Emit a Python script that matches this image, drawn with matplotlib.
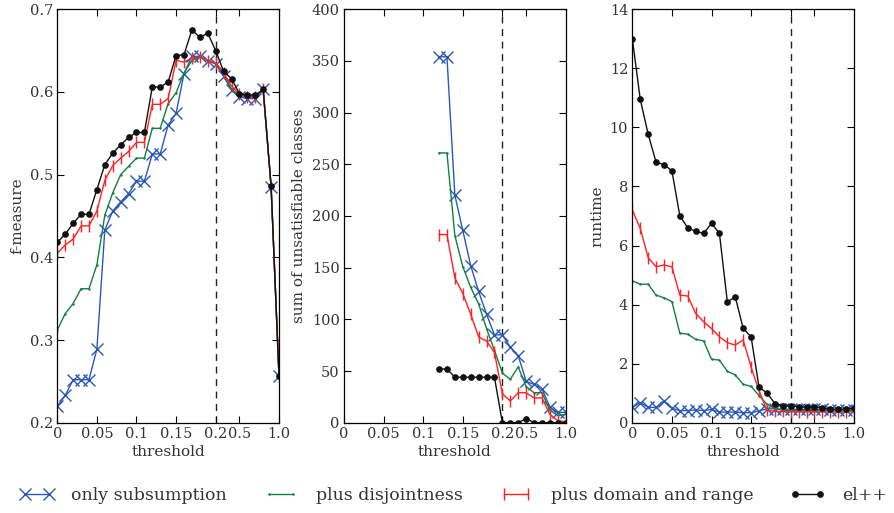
import numpy as np
import matplotlib
matplotlib.use("Agg")
import matplotlib.pyplot as plt

plt.rcParams["font.family"] = ["DejaVu Serif"]

# thresholds: fine steps up to 0.2, then coarse steps up to 1.0
thresholds = [0.00, 0.01, 0.02, 0.03, 0.04, 0.05, 0.06, 0.07, 0.08, 0.09,
              0.10, 0.11, 0.12, 0.13, 0.14, 0.15, 0.16, 0.17, 0.18, 0.19,
              0.20, 0.3, 0.4, 0.5, 0.6, 0.7, 0.8, 0.9, 1.0]
tick_values = [0, 0.05, 0.1, 0.15, 0.2, 0.5, 1.0]
tick_labels = ["0", "0.05", "0.1", "0.15", "0.2", "0.5", "1.0"]
cutoff = 0.2

series_names = ["only subsumption", "plus disjointness",
                "plus domain and range", "el++"]

# f-measure
f_subsumption = [0.220, 0.233, 0.252, 0.252, 0.252, 0.289, 0.433, 0.456, 0.467, 0.477,
                 0.492, 0.492, 0.525, 0.525, 0.560, 0.574, 0.622, 0.643, 0.643, 0.638,
                 0.634, 0.619, 0.602, 0.594, 0.592, 0.592, 0.603, 0.485, 0.256]
f_disjoint = [0.312, 0.332, 0.344, 0.362, 0.362, 0.391, 0.451, 0.478, 0.500, 0.510,
              0.520, 0.520, 0.556, 0.556, 0.586, 0.599, 0.623, 0.638, 0.642, 0.638,
              0.634, 0.622, 0.603, 0.596, 0.594, 0.594, 0.603, 0.486, 0.256]
f_domain = [0.405, 0.415, 0.422, 0.438, 0.438, 0.456, 0.493, 0.511, 0.520, 0.528,
            0.539, 0.539, 0.585, 0.585, 0.592, 0.638, 0.636, 0.641, 0.642, 0.638,
            0.635, 0.623, 0.607, 0.597, 0.594, 0.594, 0.603, 0.486, 0.256]
f_elpp = [0.418, 0.428, 0.441, 0.452, 0.452, 0.482, 0.512, 0.526, 0.536, 0.545,
          0.551, 0.551, 0.606, 0.606, 0.612, 0.644, 0.645, 0.675, 0.666, 0.671,
          0.650, 0.625, 0.616, 0.598, 0.596, 0.596, 0.603, 0.486, 0.256]

# sum of unsatisfiable classes (no values below threshold 0.12)
n = np.nan
u_subsumption = [n] * 12 + [354, 354, 220, 186, 152, 127, 105, 85, 85, 73,
                            65, 40, 37, 33, 15, 10, 10]
u_disjoint = [n] * 12 + [261, 261, 181, 151, 131, 115, 91, 70, 48, 42,
                         54, 35, 29, 29, 12, 7, 8]
u_domain = [n] * 12 + [182, 182, 140, 125, 105, 83, 79, 68, 28, 21,
                       29, 29, 24, 24, 8, 2, 1]
u_elpp = [n] * 12 + [52, 52, 44, 44, 44, 44, 44, 44, 0, 0,
                     0, 4, 0, 0, 0, 0, 0]

# runtime
r_subsumption = [0.52, 0.68, 0.52, 0.52, 0.73, 0.49, 0.41, 0.41, 0.43, 0.41,
                 0.45, 0.36, 0.36, 0.36, 0.34, 0.34, 0.40, 0.47, 0.47, 0.46,
                 0.46, 0.45, 0.45, 0.45, 0.45, 0.44, 0.44, 0.43, 0.43]
r_disjoint = [4.80, 4.69, 4.69, 4.32, 4.23, 4.10, 3.03, 3.00, 2.82, 2.77,
              2.15, 2.12, 1.74, 1.62, 1.30, 1.23, 0.92, 0.62, 0.48, 0.42,
              0.42, 0.41, 0.41, 0.41, 0.40, 0.40, 0.40, 0.40, 0.40]
r_domain = [7.20, 6.58, 5.59, 5.28, 5.34, 5.28, 4.32, 4.29, 3.70, 3.42,
            3.19, 2.91, 2.71, 2.63, 2.80, 1.88, 1.08, 0.43, 0.38, 0.38,
            0.37, 0.37, 0.37, 0.37, 0.37, 0.37, 0.36, 0.36, 0.36]
r_elpp = [13.0, 10.95, 9.77, 8.82, 8.74, 8.53, 7.00, 6.60, 6.48, 6.41,
          6.75, 6.41, 4.09, 4.26, 3.19, 2.91, 1.20, 1.01, 0.65, 0.57,
          0.57, 0.54, 0.52, 0.52, 0.51, 0.46, 0.46, 0.46, 0.49]

panels = [
    ("f-measure", (0.2, 0.7), np.arange(0.2, 0.71, 0.1), "{:.1f}",
     [f_subsumption, f_disjoint, f_domain, f_elpp]),
    ("sum of unsatisfiable classes", (0, 400), np.arange(0, 401, 50), "{:.0f}",
     [u_subsumption, u_disjoint, u_domain, u_elpp]),
    ("runtime", (0, 14), np.arange(0, 15, 2), "{:.0f}",
     [r_subsumption, r_disjoint, r_domain, r_elpp]),
]

styles = [
    dict(color="#2a58b5", marker="x", markersize=8, markeredgewidth=1.0, lw=1.0),
    dict(color="#128040", marker=".", markersize=1.5, lw=1.0),
    dict(color="#ff2222", marker="|", markersize=8, markeredgewidth=1.0, lw=1.0),
    dict(color="#111111", marker="o", markersize=3.8, lw=1.0),
]

# map each threshold to an evenly spaced position on the axis
index = np.arange(len(thresholds), dtype=float)
thr = np.array(thresholds)


def forward(x):
    return np.interp(x, thr, index)


def inverse(p):
    return np.interp(p, index, thr)


fig = plt.figure(figsize=(8.94, 5.13), dpi=100)
lefts = [0.0641, 0.3848, 0.7073]
text_color = "#333333"

handles = []
for left, (ylabel, ylim, yticks, fmt, data) in zip(lefts, panels):
    ax = fig.add_axes([left, 0.176, 0.248, 0.806])
    ax.set_xscale("function", functions=(forward, inverse))
    lines = []
    for values, st in zip(data, styles):
        (ln,) = ax.plot(thresholds, values, **st)
        lines.append(ln)
    handles = lines
    ax.axvline(cutoff, color="#222222", lw=1.0, ls=(0, (5, 4)), zorder=0)
    ax.set_xlim(0, 1.0)
    ax.set_ylim(*ylim)
    ax.set_xticks(tick_values)
    ax.set_xticklabels(tick_labels)
    ax.minorticks_off()
    ax.set_yticks(yticks)
    ax.set_yticklabels([fmt.format(v) for v in yticks])
    ax.tick_params(direction="in", top=True, right=True, length=5, width=0.8,
                   labelsize=10.5, labelcolor=text_color, pad=3)
    for sp in ax.spines.values():
        sp.set_linewidth(0.9)
    ax.set_xlabel("threshold", fontsize=11, color=text_color, labelpad=3)
    ax.set_ylabel(ylabel, fontsize=11, color=text_color, labelpad=4)

fig.legend(handles, series_names, loc="lower left", ncol=4, numpoints=2,
           bbox_to_anchor=(0.012, 0.0, 0.99, 0.055), mode="expand",
           frameon=False, fontsize=12.5, handlelength=2.0, handletextpad=1.0,
           borderaxespad=0.1, labelcolor=text_color)

fig.savefig("out.png", dpi=100)
